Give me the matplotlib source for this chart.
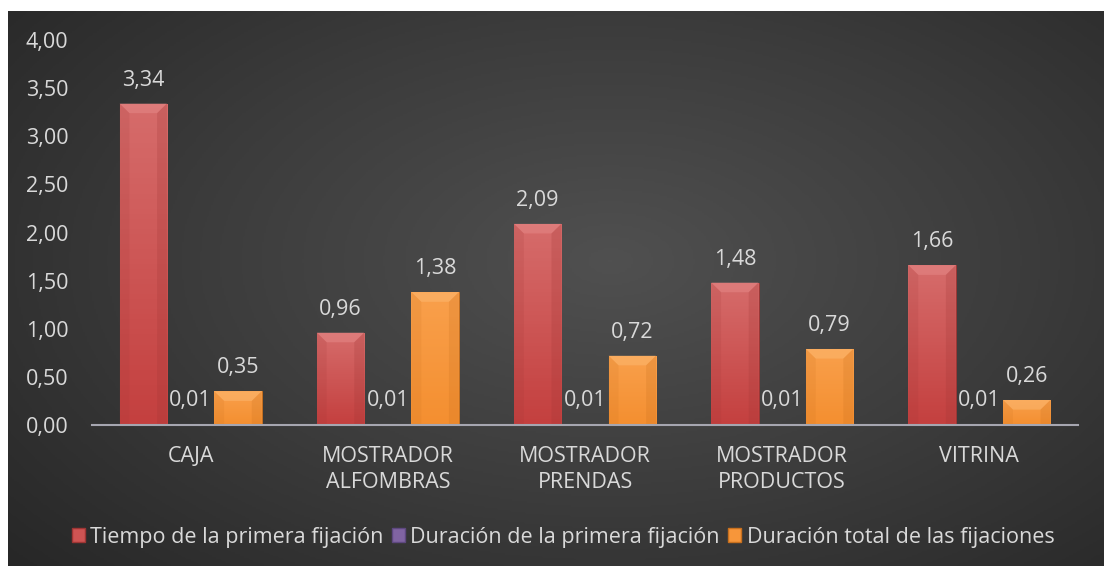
import numpy as np
import matplotlib
matplotlib.use("Agg")
import matplotlib.pyplot as plt
from matplotlib.patches import Polygon, Rectangle
from matplotlib.colors import LinearSegmentedColormap, to_rgb

categories = ["CAJA", "MOSTRADOR\nALFOMBRAS", "MOSTRADOR\nPRENDAS", "MOSTRADOR\nPRODUCTOS", "VITRINA"]
series_names = ["Tiempo de la primera fijación", "Duración de la primera fijación", "Duración total de las fijaciones"]
tiempo_primera = [3.34, 0.96, 2.09, 1.48, 1.66]
duracion_primera = [0.01, 0.01, 0.01, 0.01, 0.01]
duracion_total = [0.35, 1.38, 0.72, 0.79, 0.26]
yticks = [0, 0.5, 1.0, 1.5, 2.0, 2.5, 3.0, 3.5, 4.0]

colors = ["#CE5453", "#8064A2", "#F7963A"]
tops = ["#D66C6B", "#9378B5", "#F9A04C"]
bottoms = ["#C4403F", "#735796", "#F48F30"]
light = ["#E58887", "#A58BC4", "#FCB870"]
dark = ["#9E3534", "#5E4880", "#C8701E"]
FS = 15.5
TXT = "#D9D9D9"

plt.rcParams['font.family'] = ['Open Sans', 'DejaVu Sans']
W, H = 1104, 566
fig = plt.figure(figsize=(W / 100, H / 100), dpi=100)
fig.patch.set_facecolor("white")

# background radial gradient
bg = fig.add_axes([8 / W, 0, 1 - 8 / W, 1 - 11 / H])
bg.set_axis_off()
yy, xx = np.mgrid[0:1:300j, 0:1:600j]
r = np.sqrt(((xx - 0.55) / 0.75) ** 2 + ((yy - 0.45) / 0.85) ** 2)
cmap = LinearSegmentedColormap.from_list("bg", ["#505050", "#3c3c3c", "#262626"])
bg.imshow(np.clip(r, 0, 1), cmap=cmap, aspect="auto", extent=[0, 1, 0, 1], vmin=0, vmax=1)
bg.set_xlim(0, 1)
bg.set_ylim(0, 1)

ax = fig.add_axes([92 / W, 1 - 425 / H, (1078 - 92) / W, (425 - 40) / H])
ax.patch.set_alpha(0)
n = len(categories)
x = np.arange(n)
bw = 0.24
series = [tiempo_primera, duracion_primera, duracion_total]
ax.set_xlim(-0.5, n - 0.5)
ax.set_ylim(0, 4)

for i, vals in enumerate(series):
    offs = (i - 1) * bw
    bars = ax.bar(x + offs, vals, width=bw, color=colors[i], edgecolor=dark[i], linewidth=0.6, zorder=3)
    grad_cmap = LinearSegmentedColormap.from_list(f"g{i}", [bottoms[i], tops[i]])
    for b, v in zip(bars, vals):
        bx, by, bwid, bh = b.get_x(), b.get_y(), b.get_width(), b.get_height()
        im = ax.imshow(np.linspace(0, 1, 64).reshape(-1, 1), cmap=grad_cmap, origin="lower",
                       extent=[bx, bx + bwid, by, bh], aspect="auto", zorder=3.5)
        im.set_clip_path(b)
        bev_y = min(0.1, bh / 2)
        bev_x = min(bwid * 0.25, bev_y * 0.5)
        top = Polygon([[bx, bh], [bx + bwid, bh], [bx + bwid - bev_x, bh - bev_y], [bx + bev_x, bh - bev_y]],
                      closed=True, facecolor=light[i], edgecolor="none", zorder=4, alpha=0.55)
        ax.add_patch(top)
        left = Polygon([[bx, by], [bx, bh], [bx + bev_x, bh - bev_y], [bx + bev_x, by]],
                       closed=True, facecolor=dark[i], edgecolor="none", zorder=4, alpha=0.15)
        right = Polygon([[bx + bwid, by], [bx + bwid, bh], [bx + bwid - bev_x, bh - bev_y], [bx + bwid - bev_x, by]],
                        closed=True, facecolor=dark[i], edgecolor="none", zorder=4, alpha=0.22)
        ax.add_patch(left)
        ax.add_patch(right)
        ax.annotate(f"{v:.2f}".replace(".", ","), (b.get_x() + bwid / 2, bh),
                    xytext=(0, 13), textcoords="offset pixels", ha="center", va="bottom",
                    color=TXT, fontsize=FS, zorder=5)

ax.set_xlim(-0.5, n - 0.5)
ax.set_ylim(0, 4)
for s in ["top", "right", "left"]:
    ax.spines[s].set_visible(False)
ax.spines["bottom"].set_color("#A6A6B0")
ax.spines["bottom"].set_linewidth(1.5)
ax.spines["bottom"].set_zorder(6)
ax.set_xticks(x)
ax.set_xticklabels(categories, color=TXT, fontsize=FS, linespacing=1.35)
ax.tick_params(axis="x", length=0, pad=15)
ax.set_yticks(yticks)
ax.set_yticklabels([f"{t:.2f}".replace(".", ",") for t in yticks], color=TXT, fontsize=FS)
ax.tick_params(axis="y", length=0, pad=17)

handles = [Rectangle((0, 0), 1, 1, facecolor=colors[i], edgecolor=dark[i]) for i in range(3)]
leg = fig.legend(handles, series_names, loc="center", bbox_to_anchor=(563 / W, 1 - 537 / H), ncol=3,
                 frameon=False, fontsize=FS, labelcolor=TXT, handlelength=0.6, handleheight=0.6,
                 handletextpad=0.25, columnspacing=0.4)

fig.savefig("out.png", dpi=100, facecolor=fig.get_facecolor())
